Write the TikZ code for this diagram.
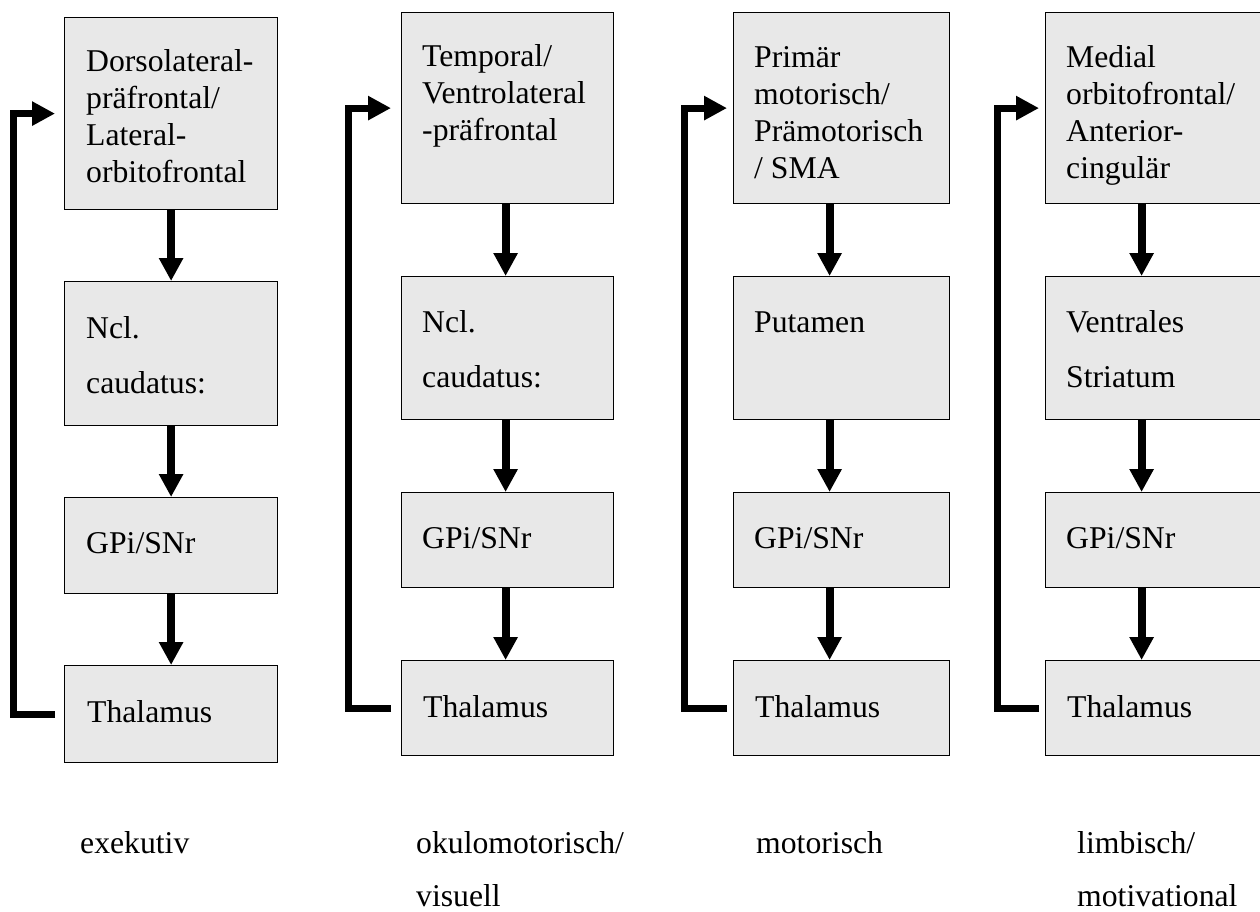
\documentclass[tikz,border=0pt]{standalone}
\usepackage{fontspec}
\setmainfont{Liberation Serif}
\usetikzlibrary{arrows.meta}
\definecolor{boxfill}{RGB}{232,232,232}
\begin{document}
\begin{tikzpicture}[x=1pt,y=-1pt,
  box/.style={draw=black, line width=1.2pt, fill=boxfill, anchor=north west, inner sep=0pt},
  txt/.style={anchor=base west, inner sep=0pt, font=\fontsize{31.7pt}{36.8pt}\selectfont},
  va/.style={line width=8pt, -{Triangle[width=23pt,length=23pt]}},
  fb/.style={line width=7pt, line join=miter, -{Triangle[width=23pt,length=23pt]}}]
\useasboundingbox (0,0) rectangle (1260,912);
% ---------- column 1 ----------
\node[box, minimum width=213pt, minimum height=192pt] (c1a) at (64,17) {};
\node[box, minimum width=213pt, minimum height=144pt] (c1b) at (64,281) {};
\node[box, minimum width=213pt, minimum height=96pt]  (c1c) at (64,497) {};
\node[box, minimum width=213pt, minimum height=97pt]  (c1d) at (64,665) {};
\node[txt] (t1a) at (86,72) {\begin{tabular}[t]{@{}l@{}}Dorsolateral-\\präfrontal/\\Lateral-\\orbitofrontal\end{tabular}};
\node[txt] (t1b) at (86,338) {\begin{tabular}[t]{@{}l@{}}Ncl.\\[18.2pt]caudatus:\end{tabular}};
\node[txt] (t1c) at (86,553) {GPi/SNr};
\node[txt] (t1d) at (87,722) {Thalamus};
\draw[va] (c1a.south) -- (c1b.north);
\draw[va] (c1b.south) -- (c1c.north);
\draw[va] (c1c.south) -- (c1d.north);
\draw[fb] ([xshift=-9pt]c1d.west) -- ++(-42,0) |- ([xshift=-9pt]c1a.west);
% ---------- column 2 ----------
\node[box, minimum width=212pt, minimum height=191pt] (c2a) at (401,12) {};
\node[box, minimum width=212pt, minimum height=143pt] (c2b) at (401,276) {};
\node[box, minimum width=212pt, minimum height=95pt]  (c2c) at (401,492) {};
\node[box, minimum width=212pt, minimum height=95pt]  (c2d) at (401,660) {};
\node[txt] (t2a) at (422,67) {\begin{tabular}[t]{@{}l@{}}Temporal/\\Ventrolateral\\-präfrontal\end{tabular}};
\node[txt] (t2b) at (422,332) {\begin{tabular}[t]{@{}l@{}}Ncl.\\[18.2pt]caudatus:\end{tabular}};
\node[txt] (t2c) at (422,548) {GPi/SNr};
\node[txt] (t2d) at (423,717) {Thalamus};
\draw[va] ([xshift=-2pt]c2a.south) -- ([xshift=-2pt]c2b.north);
\draw[va] ([xshift=-2pt]c2b.south) -- ([xshift=-2pt]c2c.north);
\draw[va] ([xshift=-2pt]c2c.south) -- ([xshift=-2pt]c2d.north);
\draw[fb] ([xshift=-10pt]c2d.west) -- ++(-43,0) |- ([xshift=-10pt]c2a.west);
% ---------- column 3 ----------
\node[box, minimum width=216pt, minimum height=191pt] (c3a) at (733,12) {};
\node[box, minimum width=216pt, minimum height=143pt] (c3b) at (733,276) {};
\node[box, minimum width=216pt, minimum height=95pt]  (c3c) at (733,492) {};
\node[box, minimum width=216pt, minimum height=95pt]  (c3d) at (733,660) {};
\node[txt] (t3a) at (754,68) {\begin{tabular}[t]{@{}l@{}}Primär\\motorisch/\\Prämotorisch\\/ SMA\end{tabular}};
\node[txt] (t3b) at (754,332) {Putamen};
\node[txt] (t3c) at (754,548) {GPi/SNr};
\node[txt] (t3d) at (755,717) {Thalamus};
\draw[va] ([xshift=-12pt]c3a.south) -- ([xshift=-12pt]c3b.north);
\draw[va] ([xshift=-12pt]c3b.south) -- ([xshift=-12pt]c3c.north);
\draw[va] ([xshift=-12pt]c3c.south) -- ([xshift=-12pt]c3d.north);
\draw[fb] ([xshift=-6pt]c3d.west) -- ++(-43,0) |- ([xshift=-6pt]c3a.west);
% ---------- column 4 ----------
\node[box, minimum width=216pt, minimum height=191pt] (c4a) at (1045,12) {};
\node[box, minimum width=216pt, minimum height=143pt] (c4b) at (1045,276) {};
\node[box, minimum width=216pt, minimum height=95pt]  (c4c) at (1045,492) {};
\node[box, minimum width=216pt, minimum height=95pt]  (c4d) at (1045,660) {};
\node[txt] (t4a) at (1066,68) {\begin{tabular}[t]{@{}l@{}}Medial\\orbitofrontal/\\Anterior-\\cingulär\end{tabular}};
\node[txt] (t4b) at (1066,332) {\begin{tabular}[t]{@{}l@{}}Ventrales\\[18.2pt]Striatum\end{tabular}};
\node[txt] (t4c) at (1066,548) {GPi/SNr};
\node[txt] (t4d) at (1067,717) {Thalamus};
\draw[va] ([xshift=-12pt]c4a.south) -- ([xshift=-12pt]c4b.north);
\draw[va] ([xshift=-12pt]c4b.south) -- ([xshift=-12pt]c4c.north);
\draw[va] ([xshift=-12pt]c4c.south) -- ([xshift=-12pt]c4d.north);
\draw[fb] ([xshift=-6pt]c4d.west) -- ++(-42,0) |- ([xshift=-6pt]c4a.west);
% ---------- bottom labels ----------
\node[txt] (l1) at (80,853) {exekutiv};
\node[txt] (l2) at (416,853) {\begin{tabular}[t]{@{}l@{}}okulomotorisch/\\[16.2pt]visuell\end{tabular}};
\node[txt] (l3) at (756,853) {motorisch};
\node[txt] (l4) at (1077,853) {\begin{tabular}[t]{@{}l@{}}limbisch/\\[16.2pt]motivational\end{tabular}};
\end{tikzpicture}
\end{document}
